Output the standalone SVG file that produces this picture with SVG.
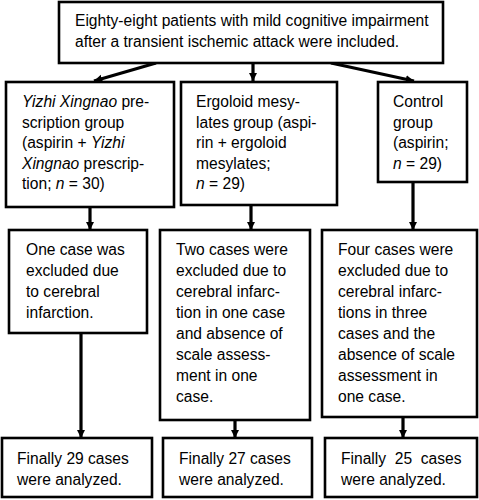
<svg xmlns="http://www.w3.org/2000/svg" width="479" height="500" viewBox="0 0 479 500">
<defs>
<style>
rect.b{fill:#fff;stroke:#000;stroke-width:2.6}
text{font-family:"Liberation Sans",Arial,sans-serif;font-size:15.6px;fill:#000}
.c line{stroke:#000;stroke-width:3.2}
</style>
<marker id="ah" viewBox="0 0 10 10" refX="10" refY="5" markerWidth="2.6" markerHeight="2.9" orient="auto" markerUnits="strokeWidth">
<path d="M0,0L10,5L0,10z" fill="#000"/>
</marker>
</defs>
<rect width="479" height="500" fill="#fff"/>
<g class="c">
<line x1="156" y1="63" x2="94" y2="81" marker-end="url(#ah)"/>
<line x1="253" y1="63" x2="253" y2="81" marker-end="url(#ah)"/>
<line x1="331" y1="63" x2="414" y2="81" marker-end="url(#ah)"/>
<line x1="90" y1="207" x2="90" y2="230" marker-end="url(#ah)"/>
<line x1="251" y1="205" x2="251" y2="230" marker-end="url(#ah)"/>
<line x1="413" y1="182" x2="413" y2="230" marker-end="url(#ah)"/>
<line x1="81" y1="333" x2="81" y2="438" marker-end="url(#ah)"/>
<line x1="235" y1="420" x2="235" y2="438" marker-end="url(#ah)"/>
<line x1="403" y1="417" x2="403" y2="438" marker-end="url(#ah)"/>
</g>
<g id="top"><rect class="b" x="59" y="2" width="384" height="61"/>
<text x="75" y="26">Eighty-eight patients with mild cognitive impairment</text>
<text x="75" y="47">after a transient ischemic attack were included.</text></g>
<g id="g1"><rect class="b" x="6" y="82" width="168" height="125"/>
<text x="22" y="107"><tspan font-style="italic">Yizhi Xingnao</tspan> pre-</text>
<text x="22" y="127.5">scription group</text>
<text x="22" y="148">(aspirin + <tspan font-style="italic">Yizhi</tspan></text>
<text x="22" y="168.5"><tspan font-style="italic">Xingnao</tspan> prescrip-</text>
<text x="22" y="189">tion; <tspan font-style="italic">n</tspan> = 30)</text></g>
<g id="g2"><rect class="b" x="181" y="82" width="156" height="123"/>
<text x="196" y="107">Ergoloid mesy-</text>
<text x="196" y="127.5">lates group (aspi-</text>
<text x="196" y="148">rin + ergoloid</text>
<text x="196" y="168.5">mesylates;</text>
<text x="196" y="189"><tspan font-style="italic">n</tspan> = 29)</text></g>
<g id="g3"><rect class="b" x="378" y="82" width="89" height="100"/>
<text x="393" y="107">Control</text>
<text x="393" y="127.5">group</text>
<text x="393" y="148">(aspirin;</text>
<text x="393" y="168.5"><tspan font-style="italic">n</tspan> = 29)</text></g>
<g id="e1"><rect class="b" x="9" y="230" width="138" height="103"/>
<text x="26" y="255">One case was</text>
<text x="26" y="276">excluded due</text>
<text x="26" y="297">to cerebral</text>
<text x="26" y="318">infarction.</text></g>
<g id="e2"><rect class="b" x="160" y="230" width="150" height="190"/>
<text x="176" y="255">Two cases were</text>
<text x="176" y="276">excluded due to</text>
<text x="176" y="297">cerebral infarc-</text>
<text x="176" y="318">tion in one case</text>
<text x="176" y="339">and absence of</text>
<text x="176" y="360">scale assess-</text>
<text x="176" y="381">ment in one</text>
<text x="176" y="402">case.</text></g>
<g id="e3"><rect class="b" x="322" y="230" width="155" height="187"/>
<text x="338" y="255">Four cases were</text>
<text x="338" y="276">excluded due to</text>
<text x="338" y="297">cerebral infarc-</text>
<text x="338" y="318">tions in three</text>
<text x="338" y="339">cases and the</text>
<text x="338" y="360">absence of scale</text>
<text x="338" y="381">assessment in</text>
<text x="338" y="402">one case.</text></g>
<g id="f1"><rect class="b" x="2" y="438" width="150" height="59"/>
<text x="17" y="464">Finally 29 cases</text>
<text x="17" y="485">were analyzed.</text></g>
<g id="f2"><rect class="b" x="163" y="438" width="149" height="59"/>
<text x="179" y="464">Finally 27 cases</text>
<text x="179" y="485">were analyzed.</text></g>
<g id="f3"><rect class="b" x="325" y="438" width="152" height="59"/>
<text x="341" y="464" xml:space="preserve">Finally  25  cases</text>
<text x="341" y="485">were analyzed.</text></g>
</svg>
